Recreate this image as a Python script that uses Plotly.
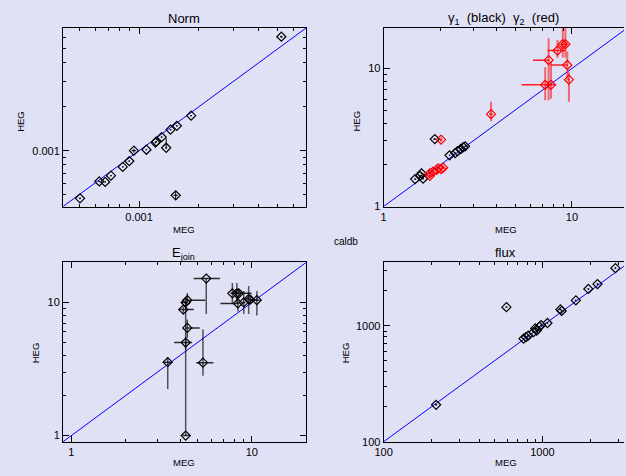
import plotly.graph_objects as go

BG = "#E1E1F6"
FONT = "Liberation Sans"

# ---------------- data ----------------
# Panel 1: Norm
norm_meg = [5.04e-4, 6.30e-4, 6.75e-4, 7.22e-4, 8.28e-4, 8.93e-4, 9.42e-4, 1.089e-3, 1.21e-3,
            1.22e-3, 1.30e-3, 1.37e-3, 1.44e-3, 1.55e-3, 1.83e-3, 1.53e-3, 5.21e-3]
norm_heg = [4.71e-4, 6.15e-4, 6.10e-4, 6.74e-4, 7.74e-4, 8.49e-4, 1.0e-3, 1.015e-3, 1.136e-3,
            1.153e-3, 1.24e-3, 1.047e-3, 1.393e-3, 1.48e-3, 1.738e-3, 4.94e-4, 6.05e-3]
norm_meg_err = [6e-6, 6e-6, 6e-6, 7e-6, 8e-6, 9e-6, 2.5e-5, 1e-5, 1.2e-5, 1.2e-5, 1.3e-5, 1.5e-5,
                1.4e-5, 1.5e-5, 1.8e-5, 4e-5, 8e-5]
norm_heg_err_plus = [6e-6, 6e-6, 6e-6, 7e-6, 8e-6, 9e-6, 3e-5, 1e-5, 1.2e-5, 1.2e-5, 1.3e-5, 1.7e-4,
                     1.4e-5, 1.5e-5, 1.8e-5, 4e-5, 1e-4]
norm_heg_err_minus = [6e-6, 6e-6, 6e-6, 7e-6, 8e-6, 9e-6, 3e-5, 1e-5, 1.2e-5, 1.2e-5, 1.3e-5, 2e-5,
                      1.4e-5, 1.5e-5, 1.8e-5, 3e-5, 1e-4]

# Panel 2: gamma1 (black)
g1_meg = [1.47, 1.56, 1.59, 1.62, 1.87, 2.24, 2.40, 2.47, 2.57, 2.65, 2.71]
g1_heg = [1.58, 1.67, 1.74, 1.59, 3.08, 2.35, 2.44, 2.52, 2.61, 2.69, 2.73]
g1_err = [0.02, 0.02, 0.02, 0.02, 0.04, 0.02, 0.02, 0.02, 0.02, 0.02, 0.02]

# Panel 2: gamma2 (red)
g2_meg = [1.76, 1.76, 1.83, 1.91, 1.95, 2.02, 2.07, 2.02, 3.72, 7.21, 7.74, 7.52, 8.38, 8.94, 9.23, 9.45, 9.64]
g2_heg = [1.67, 1.74, 1.79, 1.84, 1.89, 1.87, 1.91, 3.05, 4.67, 7.62, 7.62, 11.5, 13.5, 15.0, 15.0, 10.6, 8.30]
g2_meg_minus = [0.03, 0.03, 0.03, 0.03, 0.03, 0.03, 0.03, 0.03, 0.08, 1.81, 0.46, 1.31, 0.96, 0.2, 0.2, 1.71, 0.1]
g2_meg_plus = [0.03, 0.03, 0.03, 0.03, 0.03, 0.03, 0.03, 0.03, 0.08, 0.07, 0.50, 0.08, 0.90, 0.2, 0.2, 0.07, 0.1]
g2_heg_plus = [0.04, 0.04, 0.04, 0.04, 0.04, 0.04, 0.04, 0.12, 1.08, 2.58, 3.68, 5.1, 2.6, 8.0, 8.0, 2.7, 1.1]
g2_heg_minus = [0.04, 0.04, 0.04, 0.04, 0.04, 0.04, 0.04, 0.12, 0.52, 1.72, 1.55, 5.6, 1.53, 3.0, 3.0, 2.42, 2.56]

# Panel 3: E_join
ej_meg = [3.42, 4.30, 4.30, 4.39, 4.17, 4.30, 4.39, 5.59, 5.36, 7.80, 8.26, 8.47, 8.37, 9.02, 9.60, 9.80, 10.66]
ej_heg = [3.56, 1.00, 5.00, 6.44, 8.84, 10.0, 10.4, 15.1, 3.53, 11.7, 11.7, 11.7, 9.84, 10.0, 10.6, 10.5, 10.4]
ej_meg_minus = [0.21, 0.18, 0.59, 0.10, 0.22, 0.25, 0.10, 0.83, 0.44, 0.20, 0.20, 0.20, 1.67, 0.20, 0.20, 0.20, 0.78]
ej_meg_plus = [0.22, 0.27, 0.37, 0.75, 0.60, 0.10, 1.13, 1.07, 0.77, 0.20, 0.20, 1.49, 0.10, 0.20, 0.20, 0.20, 0.54]
ej_heg_plus = [0.31, 9.3, 0.5, 1.0, 0.5, 0.8, 1.4, 0.0, 2.73, 2.3, 2.3, 0.5, 1.3, 2.2, 2.7, 0.5, 1.8]
ej_heg_minus = [1.32, 0.0, 0.5, 1.0, 0.5, 0.8, 0.5, 6.9, 0.72, 1.97, 1.97, 0.5, 1.3, 1.8, 2.4, 0.5, 2.43]

# Panel 4: flux
flux_meg = [214, 593, 760, 787, 813, 877, 900, 920, 955, 980, 1074, 1297, 1320, 1622, 1944, 2219, 2877]
flux_heg = [208, 1446, 773, 798, 820, 879, 948, 906, 982, 1010, 1055, 1381, 1340, 1652, 2074, 2287, 3135]
flux_err_frac = 0.015

# tick labels
norm_ticks = [0.001]
norm_ticktext = ["0.001"]
gam_ticks = [1, 10]
gam_ticktext = ["1", "10"]
flux_ticks = [100, 1000]
flux_ticktext = ["100", "1000"]

titles = ["Norm", "γ<sub>1</sub>  (black)  γ<sub>2</sub>  (red)", "E<sub>join</sub>", "flux"]

# ---------------- layout helpers ----------------
def minor_vals(lo_exp, hi_exp):
    vals = []
    for e in range(lo_exp, hi_exp + 1):
        for m in range(2, 10):
            vals.append(m * 10.0 ** e)
    return vals

def axis(domain, rng, majors, labels, minors, anchor, mirror):
    # base axis: all ticks short, labels only at the decades
    return dict(
        type="log", domain=domain, range=rng, anchor=anchor,
        tickmode="array", tickvals=majors + minors,
        ticktext=labels + [" "] * len(minors),
        ticks="inside", ticklen=3, tickwidth=1, tickcolor="black",
        showline=True, linecolor="black", linewidth=1, mirror=mirror,
        showgrid=False, zeroline=False, fixedrange=True,
        tickfont=dict(family=FONT, size=11, color="black"),
    )

def major_axis(rng, majors, anchor, overlay, side, mirror):
    # overlay axis that only draws the longer decade ticks
    return dict(
        type="log", range=rng, anchor=anchor, overlaying=overlay, side=side,
        tickmode="array", tickvals=majors, showticklabels=False,
        ticks="inside", ticklen=6, tickwidth=1, tickcolor="black",
        showline=False, mirror=mirror, showgrid=False, zeroline=False, fixedrange=True,
    )

W, H = 626, 476
xdL = [55 / W, 302.5 / W]
xdR = [381.3 / W, 1.0]
ydT = [1 - 205.7 / H, 1 - 22.5 / H]
ydB = [1 - 447 / H, 1 - 263 / H]

r1 = [-3.383, -2.158]
r2x = [0.0, 1.2765]
r2y = [0.0, 1.294]
r3 = [-0.046, 1.301]
r4x = [2.0, 3.513]
r4y = [2.0, 3.546]

fig = go.Figure()

def diag(xa, ya, rng_lo, rng_hi):
    fig.add_trace(go.Scatter(x=[10 ** rng_lo, 10 ** rng_hi], y=[10 ** rng_lo, 10 ** rng_hi],
                             mode="lines", line=dict(color="#0000FF", width=1),
                             xaxis=xa, yaxis=ya, showlegend=False, hoverinfo="skip"))

def pts(x, y, xa, ya, color, exm, exp, eym, eyp, ecol_x, ecol_y, ew_x, ew_y):
    fig.add_trace(go.Scatter(
        x=x, y=y, mode="markers", xaxis=xa, yaxis=ya, showlegend=False,
        marker=dict(symbol="diamond-open", size=7, color=color, line=dict(width=1.2, color=color)),
        error_x=dict(type="data", symmetric=False, array=exp, arrayminus=exm,
                     color=ecol_x, thickness=ew_x, width=0),
        error_y=dict(type="data", symmetric=False, array=eyp, arrayminus=eym,
                     color=ecol_y, thickness=ew_y, width=0),
    ))

# Panel 1
diag("x", "y", r1[0], r1[1])
pts(norm_meg, norm_heg, "x", "y", "black", norm_meg_err, norm_meg_err,
    norm_heg_err_minus, norm_heg_err_plus, "black", "black", 1, 1)

# Panel 2
diag("x2", "y2", 0.0, 1.35)
pts(g1_meg, g1_heg, "x2", "y2", "black", g1_err, g1_err, g1_err, g1_err, "black", "black", 1, 1)
pts(g2_meg, g2_heg, "x2", "y2", "#FF0000", g2_meg_minus, g2_meg_plus, g2_heg_minus, g2_heg_plus,
    "rgba(255,0,0,0.85)", "rgba(255,0,0,0.55)", 1.5, 2)

# Panel 3
diag("x3", "y3", r3[0], r3[1])
pts(ej_meg, ej_heg, "x3", "y3", "black", ej_meg_minus, ej_meg_plus, ej_heg_minus, ej_heg_plus,
    "rgba(0,0,0,0.8)", "rgba(0,0,0,0.65)", 1.5, 1.5)

# Panel 4
flux_xe = [v * flux_err_frac for v in flux_meg]
flux_ye = [v * flux_err_frac for v in flux_heg]
diag("x4", "y4", 2.0, 3.6)
pts(flux_meg, flux_heg, "x4", "y4", "black", flux_xe, flux_xe, flux_ye, flux_ye, "black", "black", 1, 1)

# empty traces so the overlay (major-tick) axes get drawn
for k in range(5, 9):
    fig.add_trace(go.Scatter(x=[], y=[], xaxis=f"x{k}", yaxis=f"y{k}", showlegend=False,
                             hoverinfo="skip", mode="markers"))

fig.update_layout(
    width=W, height=H, margin=dict(l=0, r=0, t=0, b=0),
    paper_bgcolor=BG, plot_bgcolor=BG, showlegend=False,
    xaxis=axis(xdL, r1, norm_ticks, norm_ticktext, minor_vals(-4, -3), "y", "ticks"),
    yaxis=axis(ydT, r1, norm_ticks, norm_ticktext, minor_vals(-4, -3), "x", "ticks"),
    xaxis2=axis(xdR, r2x, gam_ticks, gam_ticktext, minor_vals(0, 1), "y2", "ticks"),
    yaxis2=axis(ydT, r2y, gam_ticks, gam_ticktext, minor_vals(0, 1), "x2", False),
    xaxis3=axis(xdL, r3, gam_ticks, gam_ticktext, minor_vals(-1, 1), "y3", "ticks"),
    yaxis3=axis(ydB, r3, gam_ticks, gam_ticktext, minor_vals(-1, 1), "x3", "ticks"),
    xaxis4=axis(xdR, r4x, flux_ticks, flux_ticktext, minor_vals(2, 3), "y4", "ticks"),
    yaxis4=axis(ydB, r4y, flux_ticks, flux_ticktext, minor_vals(2, 3), "x4", False),
    xaxis5=major_axis(r1, norm_ticks, "y", "x", "bottom", "ticks"),
    yaxis5=major_axis(r1, norm_ticks, "x", "y", "left", "ticks"),
    xaxis6=major_axis(r2x, gam_ticks, "y2", "x2", "bottom", "ticks"),
    yaxis6=major_axis(r2y, gam_ticks, "x2", "y2", "left", False),
    xaxis7=major_axis(r3, gam_ticks, "y3", "x3", "bottom", "ticks"),
    yaxis7=major_axis(r3, gam_ticks, "x3", "y3", "left", "ticks"),
    xaxis8=major_axis(r4x, flux_ticks, "y4", "x4", "bottom", "ticks"),
    yaxis8=major_axis(r4y, flux_ticks, "x4", "y4", "left", False),
)

def ann(text, xpx, ypx, size, angle=0):
    fig.add_annotation(text=text, x=xpx / W, y=1 - ypx / H, xref="paper", yref="paper",
                       showarrow=False, textangle=angle, xanchor="center", yanchor="middle",
                       font=dict(family=FONT, size=size, color="black"))

# titles
ann(titles[0], 178, 13, 13)
ann(titles[1], 503, 13, 13)
ann(titles[2], 178, 254, 13)
ann(titles[3], 505, 253, 13)
# axis labels
ann("MEG", 178, 229, 9.5)
ann("MEG", 505.7, 229, 9.5)
ann("MEG", 178, 468, 9.5)
ann("MEG", 505.7, 468, 9.5)
ann("HEG", 11, 118, 9.5, -90)
ann("HEG", 353.7, 118, 9.5, -90)
ann("HEG", 26.7, 356, 9.5, -90)
ann("HEG", 342.3, 356, 9.5, -90)
ann("caldb", 343, 242, 10)

fig.write_html("out.html", config={"displayModeBar": False},
               post_script="document.body.style.margin='0';document.body.style.overflow='hidden';")
